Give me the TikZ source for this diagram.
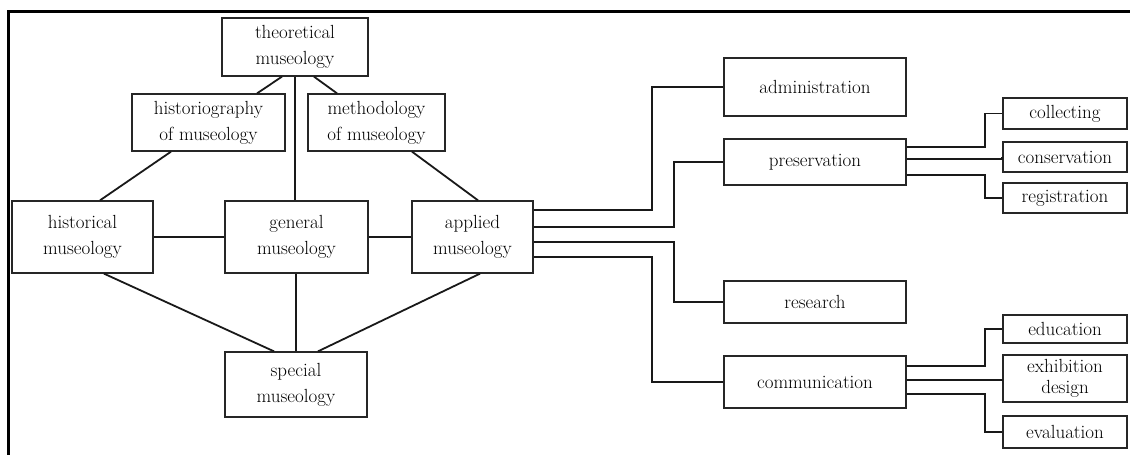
\documentclass[tikz,border=0pt]{standalone}
\begin{document}
\begin{tikzpicture}[x=1pt,y=-1pt,
  box/.style={draw=black!85, line width=1.3pt, rectangle, inner sep=0pt,
    align=center, text=black, font=\fontsize{19}{26}\selectfont},
  tight/.style={font=\fontsize{19}{21}\selectfont},
  link/.style={draw=black!90, line width=1.8pt}]
\useasboundingbox (0,0) rectangle (1130,455);

% page frame (left and top rules)
\draw[line width=3pt] (8.5,455) -- (8.5,11) -- (1130,11);

% museology branches
\node[box, minimum width=146pt, minimum height=58pt] (theo) at (295,47) {theoretical\\museology};
\node[box, minimum width=153pt, minimum height=57pt] (histg) at (208.5,122.5) {historiography\\of museology};
\node[box, minimum width=137pt, minimum height=57pt] (meth) at (376.5,122.5) {methodology\\of museology};
\node[box, minimum width=141pt, minimum height=72pt] (histl) at (82.5,237) {historical\\museology};
\node[box, minimum width=143pt, minimum height=72pt] (gen) at (296.5,237) {general\\museology};
\node[box, minimum width=121pt, minimum height=72pt] (app) at (472.5,237) {applied\\museology};
\node[box, minimum width=142pt, minimum height=65pt] (spec) at (296,384.5) {special\\museology};

% fields of applied museology
\node[box, minimum width=182pt, minimum height=58pt] (admin) at (815,87) {administration};
\node[box, minimum width=182pt, minimum height=46pt] (pres) at (815,162) {preservation};
\node[box, minimum width=182pt, minimum height=42pt] (res) at (815,302) {research};
\node[box, minimum width=182pt, minimum height=52pt] (comm) at (815,382) {communication};

% sub-fields
\node[box, minimum width=124pt, minimum height=31pt] (coll) at (1065,113.5) {collecting};
\node[box, minimum width=124pt, minimum height=30pt] (cons) at (1065,157) {conservation};
\node[box, minimum width=124pt, minimum height=30pt] (reg) at (1065,198) {registration};
\node[box, minimum width=124pt, minimum height=28pt] (edu) at (1065,329) {education};
\node[box, tight, minimum width=124pt, minimum height=47pt] (exh) at (1065,378.5) {exhibition\\design};
\node[box, minimum width=124pt, minimum height=32pt] (eval) at (1065,432) {evaluation};

% links inside the museology diamond
\draw[link] ([xshift=-13pt]theo.south) -- ([xshift=48.5pt]histg.north);
\draw[link] ([xshift=19pt]theo.south) -- ([xshift=-39.5pt]meth.north);
\draw[link] (theo.south) -- (theo.south |- gen.north);
\draw[link] ([xshift=-37.5pt]histg.south) -- ([xshift=17.5pt]histl.north);
\draw[link] ([xshift=35.5pt]meth.south) -- ([xshift=5.5pt]app.north);
\draw[link] (histl.east) -- (gen.west);
\draw[link] (gen.east) -- (app.west);
\draw[link] ([xshift=21.5pt]histl.south) -- ([xshift=-22pt]spec.north);
\draw[link] (spec.north |- gen.south) -- (spec.north);
\draw[link] ([xshift=7.5pt]app.south) -- ([xshift=22pt]spec.north);

% applied museology to its fields
\draw[link] ([yshift=27pt]app.east) -- ++(118,0) |- (admin.west);
\draw[link] ([yshift=10pt]app.east) -- ++(140,0) |- (pres.west);
\draw[link] ([yshift=-5pt]app.east) -- ++(140,0) |- (res.west);
\draw[link] ([yshift=-20pt]app.east) -- ++(118,0) |- (comm.west);

% preservation to its sub-fields
\draw[link] ([yshift=15pt]pres.east) -- ++(78,0) |- (coll.west);
\draw[link] ([yshift=3pt]pres.east) -| (cons.west);
\draw[link] ([yshift=-13pt]pres.east) -- ++(78,0) |- (reg.west);

% communication to its sub-fields
\draw[link] ([yshift=16pt]comm.east) -- ++(78,0) |- (edu.west);
\draw[link] ([yshift=2pt]comm.east) -| (exh.west);
\draw[link] ([yshift=-12pt]comm.east) -- ++(78,0) |- (eval.west);
\end{tikzpicture}
\end{document}
